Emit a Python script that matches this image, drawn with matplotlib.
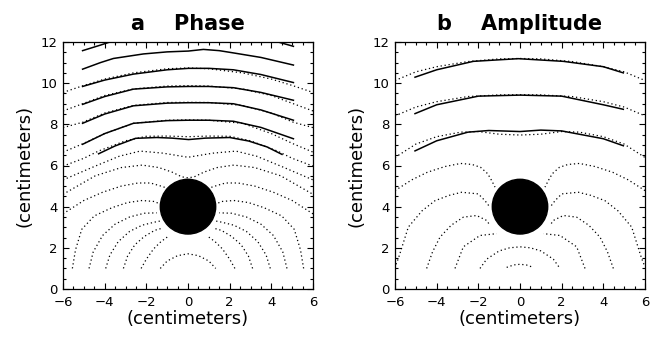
import matplotlib
matplotlib.use("Agg")
import matplotlib.pyplot as plt
from matplotlib.patches import Circle
from matplotlib.ticker import MultipleLocator
from matplotlib.transforms import ScaledTranslation

plt.rcParams['font.family'] = ['DejaVu Sans']

# ---- data (cm) ----
# theory contours are symmetric about x = 0, so only the left halves are kept.
# "full" curves cross x = 0 and are mirrored into one line,
# "split" curves stop at the absorber and are mirrored as a separate piece.

disk_center = (0.0, 4.0)
disk_radius = 1.33

# a  Phase : theory (dotted)
phase_full_x = [
    [-1.33, -1.0, -0.5, 0.0],
    [-6.0, -4.45, -3.2, -2.2, -1.4, -0.77, -0.3, 0.0],
    [-6.0, -4.5, -3.3, -2.3, -1.2, 0.0],
    [-6.0, -5.0, -4.3, -3.0, -2.0, -1.0, 0.0],
    [-6.0, -5.06, -4.0, -2.62, -1.0, 0.0],
    [-6.0, -5.06, -4.0, -2.62, -1.0, 0.0],
    [-6.0, -5.06, -4.0, -2.62, -1.0, 0.0],
    [-6.0, -5.06, -4.0, -2.62, -1.0, 0.0],
]
phase_full_y = [
    [1.0, 1.36, 1.62, 1.71],
    [4.6, 5.5, 5.9, 6.02, 5.9, 5.68, 5.45, 5.4],
    [5.3, 5.95, 6.45, 6.7, 6.6, 6.4],
    [5.97, 6.35, 6.7, 7.2, 7.42, 7.43, 7.4],
    [6.65, 7.05, 7.55, 8.05, 8.2, 8.22],
    [7.84, 8.1, 8.55, 8.92, 9.06, 9.07],
    [8.65, 9.0, 9.4, 9.72, 9.86, 9.88],
    [9.55, 9.87, 10.2, 10.5, 10.7, 10.74],
]
phase_split_x = [
    [-2.25, -2.0, -1.65, -1.3, -1.0],
    [-3.1, -2.9, -2.55, -2.1, -1.6, -1.25],
    [-3.95, -3.75, -3.35, -2.8, -2.2, -1.6, -1.35],
    [-4.75, -4.55, -4.1, -3.5, -2.8, -2.1, -1.5],
    [-5.55, -5.4, -5.1, -4.5, -3.65, -2.9, -2.2, -1.6, -1.4],
    [-6.0, -5.0, -4.1, -3.2, -2.4, -1.8, -1.3, -1.0],
]
phase_split_y = [
    [1.0, 1.45, 1.95, 2.3, 2.52],
    [1.0, 1.6, 2.15, 2.55, 2.85, 2.95],
    [1.0, 1.65, 2.3, 2.8, 3.1, 3.25, 3.3],
    [1.0, 1.8, 2.6, 3.15, 3.5, 3.68, 3.7],
    [1.0, 1.9, 2.9, 3.55, 3.95, 4.2, 4.3, 4.25, 4.15],
    [3.65, 4.3, 4.7, 5.0, 5.15, 5.15, 5.0, 4.9],
]

# a  Phase : measured (solid)
phase_meas_x = [
    [-5.06, -4.2, -3.3, -2.0, 0.0, 2.0, 3.8, 4.5, 5.06],
    [-5.06, -4.2, -3.58, -2.14, -1.0, 0.02, 0.74, 1.5, 2.18, 3.5, 5.06],
    [-5.06, -4.0, -2.62, -1.0, 0.02, 1.0, 2.18, 3.5, 5.06],
    [-5.06, -4.0, -2.62, -1.0, 0.02, 1.0, 2.18, 3.5, 5.06],
    [-5.06, -4.0, -2.62, -1.0, 0.02, 1.0, 2.18, 3.5, 5.06],
    [-5.06, -4.0, -2.62, -1.0, 0.02, 1.0, 2.18, 3.5, 5.06],
    [-4.29, -3.5, -2.52, -1.5, -0.77, 0.03, 0.83, 2.0, 2.91, 3.8, 4.51],
]
phase_meas_y = [
    [11.58, 11.85, 12.15, 12.35, 12.45, 12.35, 12.15, 11.95, 11.79],
    [10.68, 11.0, 11.2, 11.42, 11.52, 11.56, 11.64, 11.58, 11.47, 11.25, 10.88],
    [9.84, 10.15, 10.44, 10.65, 10.72, 10.72, 10.65, 10.42, 10.03],
    [8.97, 9.35, 9.71, 9.82, 9.84, 9.84, 9.78, 9.55, 9.17],
    [8.05, 8.5, 8.9, 9.03, 9.05, 9.05, 9.0, 8.7, 8.2],
    [7.03, 7.55, 8.05, 8.18, 8.2, 8.2, 8.15, 7.85, 7.3],
    [6.57, 6.95, 7.32, 7.36, 7.33, 7.26, 7.33, 7.36, 7.19, 6.9, 6.54],
]

# b  Amplitude : theory (dotted)
amp_full_x = [
    [-0.64, -0.3, 0.0],
    [-1.92, -1.6, -1.0, -0.5, 0.0],
    [-6.0, -5.0, -4.0, -2.85, -2.0, -1.0, 0.0],
    [-6.0, -5.0, -4.0, -2.5, -1.0, 0.0],
    [-6.0, -5.0, -4.0, -2.5, -1.0, 0.0],
]
amp_full_y = [
    [1.05, 1.17, 1.2],
    [1.0, 1.45, 1.85, 2.0, 2.05],
    [6.39, 7.04, 7.4, 7.62, 7.65, 7.52, 7.48],
    [8.41, 8.84, 9.1, 9.35, 9.43, 9.44],
    [10.13, 10.55, 10.8, 11.05, 11.18, 11.2],
]
amp_split_x = [
    [-3.12, -2.72, -1.92, -1.12],
    [-4.48, -4.2, -3.84, -3.3, -2.72, -2.08, -1.6, -1.44],
    [-5.95, -5.84, -5.36, -4.7, -4.08, -3.4, -2.8, -2.0, -1.68, -1.44],
    [-6.0, -5.2, -4.45, -3.6, -2.85, -2.3, -1.89, -1.55, -1.35, -1.2],
]
amp_split_y = [
    [1.0, 2.05, 2.6, 2.69],
    [1.0, 1.8, 2.52, 3.1, 3.49, 3.57, 3.33, 3.09],
    [1.2, 1.48, 3.01, 3.8, 4.29, 4.55, 4.7, 4.62, 4.29, 3.97],
    [4.78, 5.3, 5.67, 5.95, 6.1, 6.05, 5.91, 5.6, 5.25, 4.95],
]

# b  Amplitude : measured (solid)
amp_meas_x = [
    [-5.04, -4.0, -2.24, -0.08, 2.08, 4.0, 4.96],
    [-5.04, -4.0, -2.0, 0.0, 2.0, 4.0, 4.96],
    [-5.04, -4.0, -2.5, -1.5, 0.0, 1.0, 2.0, 4.0, 4.96],
]
amp_meas_y = [
    [10.29, 10.65, 11.06, 11.19, 11.06, 10.8, 10.5],
    [8.52, 8.95, 9.37, 9.42, 9.37, 8.95, 8.73],
    [6.71, 7.2, 7.62, 7.7, 7.65, 7.72, 7.68, 7.3, 6.96],
]

DOT = dict(color='black', lw=0.9, linestyle=(0, (1, 2.2)))
SOLID = dict(color='black', lw=1.1)


def mirror_full(xs, ys):
    # left half + mirrored right half (theory is symmetric)
    x = list(xs) + [-v for v in reversed(xs[:-1])]
    y = list(ys) + list(reversed(ys[:-1]))
    return x, y


def draw_panel(ax, title, full_x, full_y, split_x, split_y, meas_x, meas_y):
    for xs, ys in zip(full_x, full_y):
        x, y = mirror_full(xs, ys)
        ax.plot(x, y, **DOT)
    for xs, ys in zip(split_x, split_y):
        ax.plot(xs, ys, **DOT)
        ax.plot([-v for v in xs], ys, **DOT)
    for xs, ys in zip(meas_x, meas_y):
        ax.plot(xs, ys, **SOLID)
    ax.add_patch(Circle(disk_center, disk_radius, color='black', zorder=3))

    ax.set_xlim(-6, 6)
    ax.set_ylim(0, 12)
    ax.xaxis.set_major_locator(MultipleLocator(2))
    ax.yaxis.set_major_locator(MultipleLocator(2))
    ax.xaxis.set_minor_locator(MultipleLocator(0.5))
    ax.yaxis.set_minor_locator(MultipleLocator(0.5))
    ax.tick_params(which='both', direction='in', top=True, right=True,
                   labelsize=9.5, width=0.8)
    ax.tick_params(which='major', length=4.5)
    ax.tick_params(which='minor', length=2.2)
    ax.tick_params(axis='x', pad=5)
    ax.tick_params(axis='y', pad=4)
    ax.set_xlabel("(centimeters)", fontsize=13, labelpad=1)
    ax.set_ylabel("(centimeters)", fontsize=13, labelpad=5)
    ax.set_title(title, fontsize=15, fontweight='bold', pad=9)
    for s in ax.spines.values():
        s.set_linewidth(0.9)


fig = plt.figure(figsize=(6.59, 3.40), dpi=100)
ax1 = fig.add_axes([63 / 659, 51 / 340, 250 / 659, 247 / 340])
ax2 = fig.add_axes([395 / 659, 51 / 340, 250 / 659, 247 / 340])

draw_panel(ax1, "a    Phase", phase_full_x, phase_full_y,
           phase_split_x, phase_split_y, phase_meas_x, phase_meas_y)
draw_panel(ax2, "b    Amplitude", amp_full_x, amp_full_y,
           amp_split_x, amp_split_y, amp_meas_x, amp_meas_y)

# the "0" label of panel b sits a little higher in the original
ticks = ax2.yaxis.get_major_ticks()
lab0 = ticks[0].label1
lab0.set_transform(lab0.get_transform() + ScaledTranslation(0, 6 / 100, fig.dpi_scale_trans))

fig.savefig("out.png", dpi=100)
